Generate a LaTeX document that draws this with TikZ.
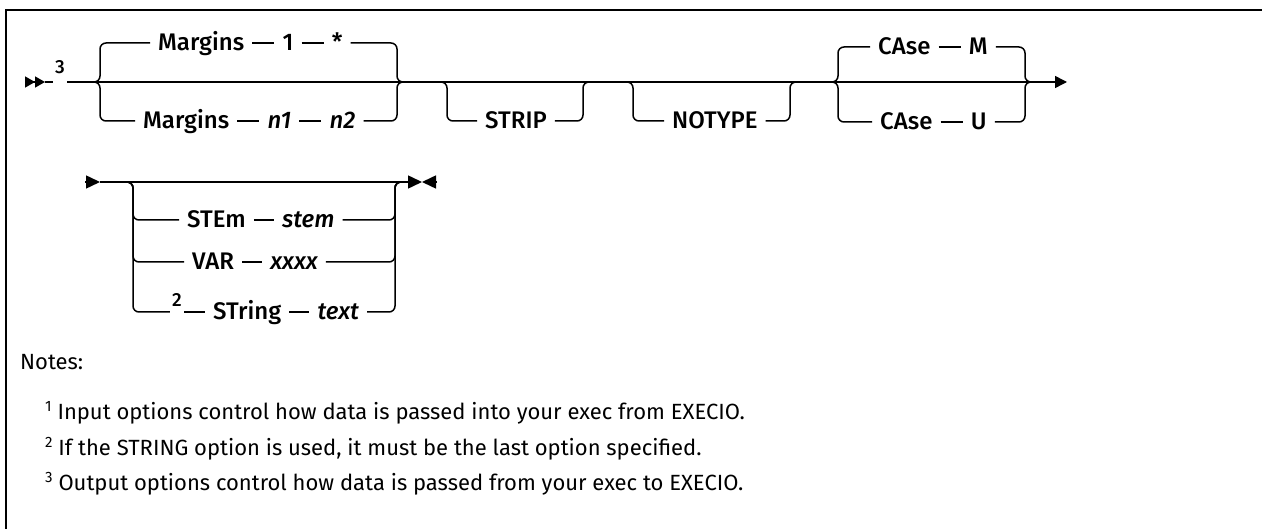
\documentclass[tikz,border=0pt]{standalone}
\usepackage{fontspec}
\setmainfont{Fira Sans}
\newfontfamily\railfont{Fira Sans Medium}
\usetikzlibrary{arrows.meta, positioning}
\tikzset{
  rail/.style={line width=1.5pt},
  detour/.style={rail, rounded corners=6pt},
  kw/.style={font=\railfont\fontsize{24}{27}\selectfont, inner xsep=8pt, inner ysep=0pt, text height=17pt, text depth=1pt},
  var/.style={kw, font=\railfont\fontsize{24}{27}\selectfont\itshape},
  refnum/.style={font=\railfont\fontsize{19}{20}\selectfont, inner xsep=2pt, inner ysep=0pt},
  note/.style={font=\fontsize{22}{26}\selectfont, anchor=base west, inner sep=0pt},
  frame/.style={line width=2.7pt},
  railhead/.style={-{Triangle[length=12pt, width=12pt]}},
}
\newcommand{\notemark}[1]{\raisebox{8pt}{\fontsize{15}{16}\selectfont #1}}

\begin{document}
\begin{tikzpicture}[x=1pt, y=-1pt]
  \useasboundingbox (0,0) rectangle (1262,529);
  \draw[frame] (1262,10) -- (6,10) -- (6,529);

  % First line of the diagram
  \coordinate (in1) at (25,82);
  \coordinate (go1) at (45,82);
  \coordinate (out1) at (1067,82);
  \draw[rail, -{Triangle[length=10pt, width=11pt] Triangle[length=10pt, width=11pt]}] (in1) -- (go1);
  \node[refnum] (ref3) at (60,67) {3};
  \draw[rail] (go1) -- (ref3.west |- go1);
  \draw[rail, railhead] (ref3.east |- go1) -- (out1);

  % Margins (default above, choice below)
  \coordinate (mL) at (93,82);
  \coordinate (mR) at (404,82);
  \node[kw, anchor=west] (mtop) at (150,43) {Margins};
  \node[kw, right=22pt of mtop] (mone) {1};
  \node[kw, right=22pt of mone] (mstar) {*};
  \draw[detour] (mL) -| (100,43) -- (mtop.west);
  \draw[rail] (mtop) -- (mone) (mone) -- (mstar);
  \draw[detour] (mstar.east) -- (397,43) |- (mR);
  \node[kw, anchor=west] (mbot) at (135,121) {Margins};
  \node[var, right=22pt of mbot] (mnone) {n1};
  \node[var, right=22pt of mnone] (mntwo) {n2};
  \draw[detour] (mL) -| (100,121) -- (mbot.west);
  \draw[rail] (mbot) -- (mnone) (mnone) -- (mntwo);
  \draw[detour] (mntwo.east) -- (397,121) |- (mR);

  % STRIP
  \coordinate (sL) at (437,82);
  \coordinate (sR) at (593,82);
  \node[kw, anchor=west] (strip) at (477,121) {STRIP};
  \draw[detour] (sL) -| (447,121) -- (strip.west);
  \draw[detour] (strip.east) -- (583,121) |- (sR);

  % NOTYPE
  \coordinate (tL) at (623,82);
  \coordinate (tR) at (800,82);
  \node[kw, anchor=west] (notype) at (664,121) {NOTYPE};
  \draw[detour] (tL) -| (633,121) -- (notype.west);
  \draw[detour] (notype.east) -- (790,121) |- (tR);

  % CAse
  \coordinate (cL) at (831,82);
  \coordinate (cR) at (1032,82);
  \node[kw, anchor=west] (ctop) at (870,47) {CAse};
  \node[kw, right=22pt of ctop] (cm) {M};
  \draw[detour] (cL) -| (838,47) -- (ctop.west);
  \draw[rail] (ctop) -- (cm);
  \draw[detour] (cm.east) -- (1025,47) |- (cR);
  \node[kw, anchor=west] (cbot) at (872,122) {CAse};
  \node[kw, right=22pt of cbot] (cu) {U};
  \draw[detour] (cL) -| (838,122) -- (cbot.west);
  \draw[rail] (cbot) -- (cu);
  \draw[detour] (cu.east) -- (1025,122) |- (cR);

  % Second line of the diagram
  \coordinate (in2) at (85,182);
  \coordinate (go2) at (100,182);
  \coordinate (out2) at (422,182);
  \coordinate (stop2) at (437,182);
  \draw[rail, -{Triangle[length=14pt, width=13pt]}] (in2) -- (go2);
  \draw[rail, -{Triangle[length=14pt, width=13pt]}] (go2) -- (out2);
  \draw[rail, -{Triangle[length=14pt, width=13pt]}] (stop2) -- (out2);

  % STEm / VAR / STring
  \coordinate (oL) at (126,182);
  \coordinate (oR) at (402,182);
  \node[kw, anchor=west] (stemkw) at (179,220) {STEm};
  \node[var, right=20pt of stemkw] (stemvar) {stem};
  \draw[detour] (oL) -| (133,220) -- (stemkw.west);
  \draw[rail] (stemkw) -- (stemvar);
  \draw[detour] (stemvar.east) -- (395,220) |- (oR);
  \node[kw, anchor=west] (varkw) at (184,262) {VAR};
  \node[var, right=20pt of varkw] (varvar) {xxxx};
  \draw[detour] (oL) -| (133,262) -- (varkw.west);
  \draw[rail] (varkw) -- (varvar);
  \draw[detour] (varvar.east) -- (395,262) |- (oR);
  \node[refnum] (ref2) at (177,300) {2};
  \node[kw, anchor=west] (strkw) at (205,312) {STring};
  \node[var, right=20pt of strkw] (strvar) {text};
  \draw[detour] (oL) -| (133,312) -- (ref2.west |- strkw);
  \draw[rail] (ref2.east |- strkw) -- (strkw) (strkw) -- (strvar);
  \draw[detour] (strvar.east) -- (395,312) |- (oR);

  % Notes
  \node[note] (notes) at (20,370) {Notes:};
  \node[note] (noteone) at (45,420) {\notemark{1} Input options control how data is passed into your exec from EXECIO.};
  \node[note] (notetwo) at (45,455) {\notemark{2} If the STRING option is used, it must be the last option specified.};
  \node[note] (notethree) at (45,490) {\notemark{3} Output options control how data is passed from your exec to EXECIO.};
\end{tikzpicture}
\end{document}
